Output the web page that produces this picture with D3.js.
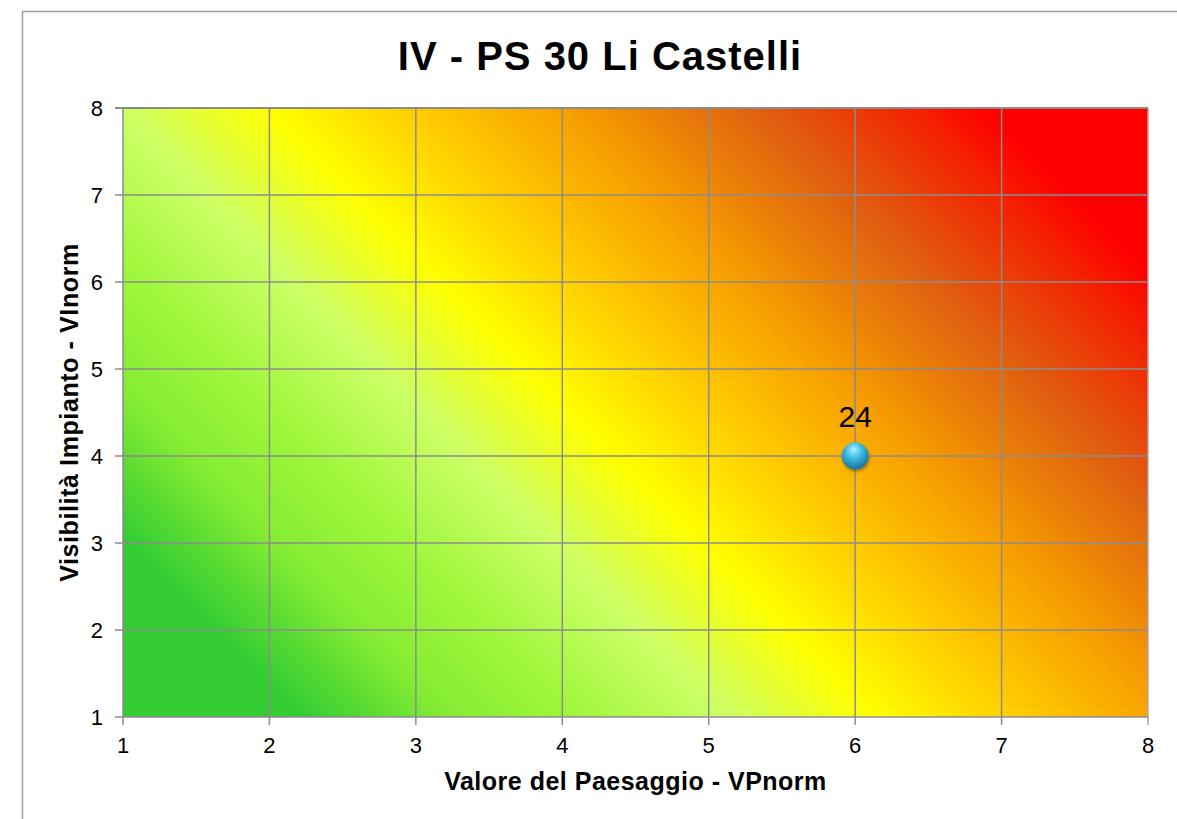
<!DOCTYPE html>
<html>
<head>
<meta charset="utf-8">
<script src="https://cdn.jsdelivr.net/npm/d3@7"></script>
<style>
body{margin:0;background:#fff;}
text{font-family:"Liberation Sans",Arial,sans-serif;}
</style>
</head>
<body>
<div id="plot" style="width:1177px;height:819px;"></div>
<script>
// chart data
var chartTitle = 'IV - PS 30 Li Castelli';
var xTitle = 'Valore del Paesaggio - VPnorm';
var yTitle = 'Visibilità Impianto - VInorm';
var xTicks = [1,2,3,4,5,6,7,8];
var yTicks = [1,2,3,4,5,6,7,8];
var pointX = [6];
var pointY = [4];
var pointLabel = ['24'];

// background gradient stops (offset along the diagonal, colour)
var stopOffsets = [0, 0.11, 0.2, 0.27, 0.37, 0.46, 0.55, 0.64, 0.76, 0.86, 0.9, 1];
var stopColors = ['#33cc33','#33cc33','#85ec33','#9cf63a','#ccff66','#ffff00','#ffcc00','#f7a000','#df6010','#f51e00','#ff0000','#ff0000'];

var margin = {t:108,r:29,b:102,l:123};
var W = 1177, H = 819;
var width = W-margin.l-margin.r,
	height = H-margin.t-margin.b;

var svg = d3.select('#plot')
	.append('svg')
	.attr('width',W)
	.attr('height',H);

// outer chart border
svg.append('rect')
	.attr('x',22.5).attr('y',11.5)
	.attr('width',1200).attr('height',840)
	.style('fill','none')
	.style('stroke','#a0a0a0')
	.style('stroke-width',1.5);

var plot = svg.append('g')
	.attr('transform','translate('+margin.l+','+margin.t+')');

var x = d3.scaleLinear().domain([1,8]).range([0,width]);
var y = d3.scaleLinear().domain([1,8]).range([height,0]);

var defs = svg.append('defs');
var L = (width+height)/2;
var grad = defs.append('linearGradient')
	.attr('id','bg')
	.attr('gradientUnits','userSpaceOnUse')
	.attr('x1',x(1)).attr('y1',y(1))
	.attr('x2',x(1)+L).attr('y2',y(1)-L);
grad.selectAll('stop')
	.data(stopOffsets)
	.enter()
	.append('stop')
	.attr('offset',function(d){return d;})
	.attr('stop-color',function(d,i){return stopColors[i];});

var ball = defs.append('radialGradient')
	.attr('id','ball')
	.attr('cx','45%').attr('cy','35%').attr('r','65%')
	.attr('fx','45%').attr('fy','25%');
ball.append('stop').attr('offset',0).attr('stop-color','#b8f0ff');
ball.append('stop').attr('offset',0.45).attr('stop-color','#3cbde6');
ball.append('stop').attr('offset',1).attr('stop-color','#1a6f9a');

var shadow = defs.append('filter').attr('id','shadow')
	.attr('x','-50%').attr('y','-50%').attr('width','200%').attr('height','200%');
shadow.append('feDropShadow')
	.attr('dx',1).attr('dy',2).attr('stdDeviation',1.5)
	.attr('flood-color','#000').attr('flood-opacity',0.35);

plot.append('rect')
	.attr('x',0).attr('y',0)
	.attr('width',width).attr('height',height)
	.style('fill','url(#bg)');

// gridlines
plot.selectAll('.vgrid')
	.data(xTicks)
	.enter()
	.append('line')
	.attr('class','vgrid')
	.attr('x1',function(d){return x(d);})
	.attr('x2',function(d){return x(d);})
	.attr('y1',0).attr('y2',height+8)
	.style('stroke',function(d){return d==8?'#aaaaaa':'#8c8c8c';})
	.style('stroke-width',1.5);

plot.selectAll('.hgrid')
	.data(yTicks)
	.enter()
	.append('line')
	.attr('class','hgrid')
	.attr('x1',-8).attr('x2',width)
	.attr('y1',function(d){return y(d);})
	.attr('y2',function(d){return y(d);})
	.style('stroke','#8c8c8c')
	.style('stroke-width',function(d){return d==8?2:1.5;});

// tick labels
plot.selectAll('.xlab')
	.data(xTicks)
	.enter()
	.append('text')
	.attr('x',function(d){return x(d);})
	.attr('y',height+36)
	.attr('text-anchor','middle')
	.style('font-size','22px')
	.text(function(d){return d;});

plot.selectAll('.ylab')
	.data(yTicks)
	.enter()
	.append('text')
	.attr('x',-20)
	.attr('y',function(d){return y(d)+8;})
	.attr('text-anchor','end')
	.style('font-size','22px')
	.text(function(d){return d;});

// titles
svg.append('text')
	.attr('x',600).attr('y',70)
	.attr('text-anchor','middle')
	.style('font-size','40px')
	.style('font-weight','bold')
	.style('letter-spacing','1px')
	.text(chartTitle);

svg.append('text')
	.attr('x',margin.l+width/2).attr('y',790)
	.attr('text-anchor','middle')
	.style('font-size','25px')
	.style('font-weight','bold')
	.style('letter-spacing','0.5px')
	.text(xTitle);

svg.append('text')
	.attr('transform','translate(78,'+(margin.t+height/2)+') rotate(-90)')
	.attr('text-anchor','middle')
	.style('font-size','25px')
	.style('font-weight','bold')
	.style('letter-spacing','0.6px')
	.text(yTitle);

// the point
pointX.forEach(function(px,i){
	plot.append('circle')
		.attr('cx',x(px))
		.attr('cy',y(pointY[i]))
		.attr('r',13.5)
		.style('fill','url(#ball)')
		.attr('filter','url(#shadow)');
	plot.append('text')
		.attr('x',x(px))
		.attr('y',y(pointY[i])-29)
		.attr('text-anchor','middle')
		.style('font-size','30px')
		.text(pointLabel[i]);
});
</script>
</body>
</html>
